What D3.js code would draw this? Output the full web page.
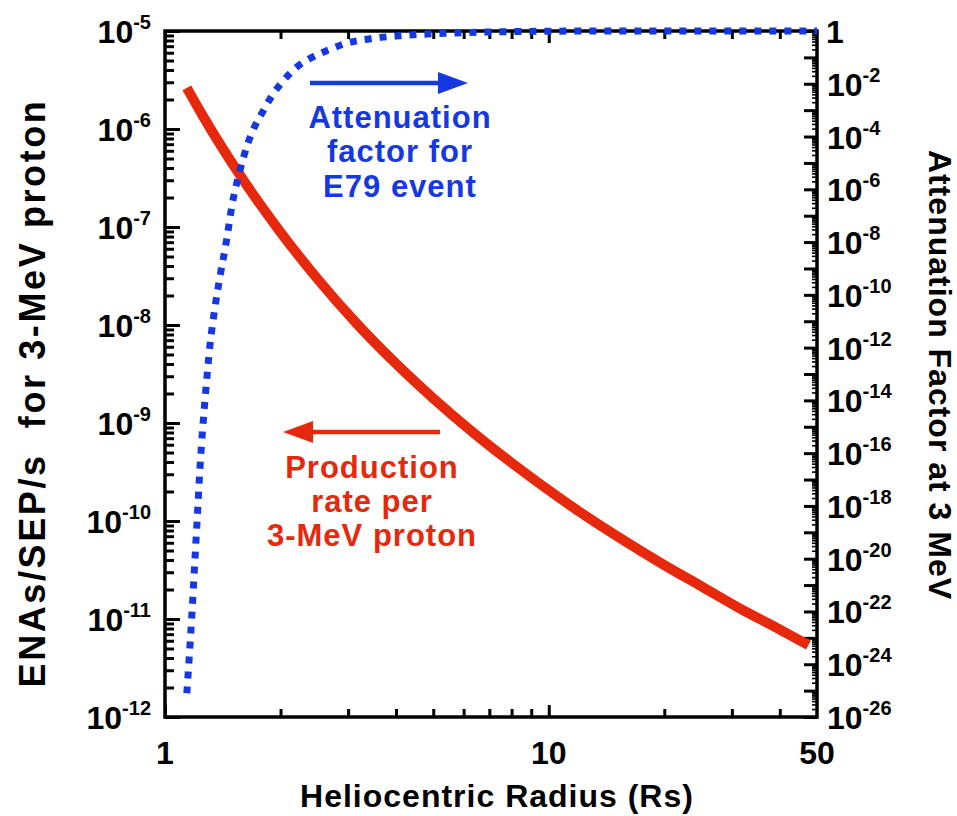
<!DOCTYPE html>
<html>
<head>
<meta charset="utf-8">
<script src="https://cdn.jsdelivr.net/npm/d3@7"></script>
<style>
  html, body { margin: 0; padding: 0; background: #fff; }
  svg { display: block; }
  text { font-family: "Liberation Sans", Arial, Helvetica, sans-serif; font-weight: bold; }
</style>
</head>
<body>
<svg id="chart" width="957" height="816"></svg>
<script>
// Production rate of ENAs per 3-MeV proton (left axis) vs heliocentric radius
const rateRadius = [1.14, 1.259, 1.585, 1.995, 2.512, 3.162, 3.981, 5.012, 6.31, 7.943, 10, 12.59, 15.85, 19.95, 25.12, 31.62, 39.81, 47.5];
const rateValues = [2.63e-6, 1.33e-6, 3.18e-7, 8.97e-8, 2.87e-8, 1.03e-8, 4.1e-9, 1.77e-9, 8.18e-10, 4.01e-10, 2.06e-10, 1.1e-10, 6.17e-11, 3.57e-11, 2.13e-11, 1.27e-11, 7.9e-12, 5.4e-12];

// Attenuation factor at 3 MeV for the E79 event (right axis)
const attenRadius = [1.14, 1.174, 1.197, 1.214, 1.233, 1.276, 1.31, 1.349, 1.391, 1.448, 1.491, 1.567, 1.645, 1.715, 1.799, 1.899, 2.03, 2.21, 2.43, 2.69, 2.94, 3.4, 4.09, 5.5, 7.47, 13.6, 50];
const attenValues = [7.9e-26, 6.3e-23, 1e-20, 4e-19, 2.5e-17, 2e-14, 1.26e-12, 3.2e-11, 5e-10, 1.26e-8, 2e-7, 5e-6, 5.6e-5, 2.5e-4, 8.9e-4, 3.5e-3, 0.0126, 0.044, 0.105, 0.2, 0.33, 0.5, 0.66, 0.83, 0.93, 1, 1];

// Tick positions and labels
const xMajorTicks = [1, 10];
const xMinorTicks = [2, 3, 4, 5, 6, 7, 8, 9, 20, 30, 40];
const xTickLabels = [[1, "1"], [10, "10"], [50, "50"]];
const leftExponents = [-5, -6, -7, -8, -9, -10, -11, -12];
const rightDecades = d3.range(0, -27, -1);
const rightLabelExponents = d3.range(0, -27, -2);

const RED = "#e6280c";
const BLUE = "#1538e2";

const svg = d3.select("#chart");
const plotTop = 31, plotBottom = 717, plotLeft = 165, plotRight = 817;
const x = d3.scaleLog().domain([1, 50]).range([plotLeft, plotRight]);
const yL = d3.scaleLog().domain([1e-12, 1e-5]).range([plotBottom, plotTop]);
const yR = d3.scaleLog().domain([1e-26, 1]).range([plotBottom, plotTop]);

// minor values 2..9 within every decade
function minorsBetween(loExp, hiExp) {
  const out = [];
  for (let e = loExp; e < hiExp; e++) for (let m = 2; m <= 9; m++) out.push(m * Math.pow(10, e));
  return out;
}

function tickGroup(axis, tx, ty) {
  const g = svg.append("g").attr("transform", `translate(${tx},${ty})`).call(axis);
  g.select(".domain").remove();
  g.selectAll(".tick line").attr("stroke", "#000").attr("stroke-width", 3);
  g.selectAll(".tick text").remove();
  return g;
}

// bottom and top ticks (inward)
tickGroup(d3.axisBottom(x).tickValues(xMajorTicks).tickSize(-12).tickFormat(""), 0, plotBottom);
tickGroup(d3.axisBottom(x).tickValues(xMinorTicks).tickSize(-8).tickFormat(""), 0, plotBottom);
tickGroup(d3.axisTop(x).tickValues(xMajorTicks).tickSize(-12).tickFormat(""), 0, plotTop);
tickGroup(d3.axisTop(x).tickValues(xMinorTicks).tickSize(-8).tickFormat(""), 0, plotTop);

// left ticks
tickGroup(d3.axisLeft(yL).tickValues(leftExponents.map(e => Math.pow(10, e))).tickSize(-15).tickFormat(""), plotLeft, 0);
tickGroup(d3.axisLeft(yL).tickValues(minorsBetween(-12, -5)).tickSize(-9).tickFormat(""), plotLeft, 0);

// right ticks
tickGroup(d3.axisRight(yR).tickValues(rightDecades.map(e => Math.pow(10, e))).tickSize(-13).tickFormat(""), plotRight, 0);
const rAx2 = tickGroup(d3.axisRight(yR).tickValues(minorsBetween(-26, 0)).tickSize(-5).tickFormat(""), plotRight, 0);
rAx2.selectAll(".tick line").attr("stroke-width", 1.6);

// frame
svg.append("rect")
  .attr("x", plotLeft).attr("y", plotTop)
  .attr("width", plotRight - plotLeft).attr("height", plotBottom - plotTop)
  .attr("fill", "none").attr("stroke", "#000").attr("stroke-width", 3.5);

// curves
const rateLine = d3.line()
  .x(d => x(d[0])).y(d => yL(d[1]))
  .curve(d3.curveMonotoneX);
svg.append("path")
  .datum(d3.zip(rateRadius, rateValues))
  .attr("d", rateLine)
  .attr("fill", "none").attr("stroke", RED).attr("stroke-width", 10)
  .attr("stroke-linejoin", "round");

const attenLine = d3.line()
  .x(d => x(d[0])).y(d => yR(d[1]))
  .curve(d3.curveMonotoneX);
svg.append("path")
  .datum(d3.zip(attenRadius, attenValues))
  .attr("d", attenLine)
  .attr("fill", "none").attr("stroke", BLUE).attr("stroke-width", 7)
  .attr("stroke-dasharray", "7,8");

// tick labels
const TL = 32, SUP = 20;
function powerLabel(sel, exp, xPos, yPos, anchor) {
  const t = sel.append("text").attr("x", xPos).attr("y", yPos)
    .attr("text-anchor", anchor).attr("font-size", TL).attr("fill", "#000");
  t.append("tspan").text("10");
  t.append("tspan").attr("dy", -14).attr("font-size", SUP).text(String(exp));
  return t;
}
leftExponents.forEach(e => powerLabel(svg, e, 151, yL(Math.pow(10, e)) + 12, "end"));
rightLabelExponents.forEach(e => {
  if (e === 0) {
    svg.append("text").attr("x", 826).attr("y", yR(1) + 12)
      .attr("font-size", TL).attr("fill", "#000").text("1");
  } else {
    powerLabel(svg, e, 827, yR(Math.pow(10, e)) + 12, "start");
  }
});
xTickLabels.forEach(([v, s]) => {
  svg.append("text").attr("x", x(v)).attr("y", 764)
    .attr("text-anchor", "middle").attr("font-size", TL).attr("fill", "#000").text(s);
});

// axis titles
svg.append("text").attr("x", 497).attr("y", 807).attr("text-anchor", "middle")
  .attr("font-size", 32).attr("letter-spacing", 1).text("Heliocentric Radius (Rs)");
svg.append("text").attr("transform", "translate(45,393) rotate(-90)")
  .attr("text-anchor", "middle").attr("font-size", 36).attr("letter-spacing", 2.6)
  .style("white-space", "pre").text("ENAs/SEP/s  for 3-MeV proton");
svg.append("text").attr("transform", "translate(929,375) rotate(90)")
  .attr("text-anchor", "middle").attr("font-size", 32).attr("letter-spacing", 1)
  .text("Attenuation Factor at 3 MeV");

// annotations with arrows
function arrow(x1, x2, yPos, color) {
  const dir = Math.sign(x2 - x1);
  const headLen = 30, headHalf = 11;
  svg.append("line").attr("x1", x1).attr("x2", x2 - dir * headLen + dir * 2)
    .attr("y1", yPos).attr("y2", yPos).attr("stroke", color).attr("stroke-width", 4.5);
  svg.append("path")
    .attr("d", `M${x2},${yPos} L${x2 - dir * headLen},${yPos - headHalf} L${x2 - dir * headLen},${yPos + headHalf} Z`)
    .attr("fill", color);
}
arrow(310, 468, 83, BLUE);
arrow(440, 283, 432, RED);

function block(lines, cx, baselines, color) {
  lines.forEach((s, i) => {
    svg.append("text").attr("x", cx).attr("y", baselines[i]).attr("text-anchor", "middle")
      .attr("font-size", 31).attr("letter-spacing", 1).attr("fill", color).text(s);
  });
}
block(["Attenuation", "factor for", "E79 event"], 400, [128, 162, 197], BLUE);
block(["Production", "rate per", "3-MeV proton"], 372, [478, 512, 546], RED);
</script>
</body>
</html>
